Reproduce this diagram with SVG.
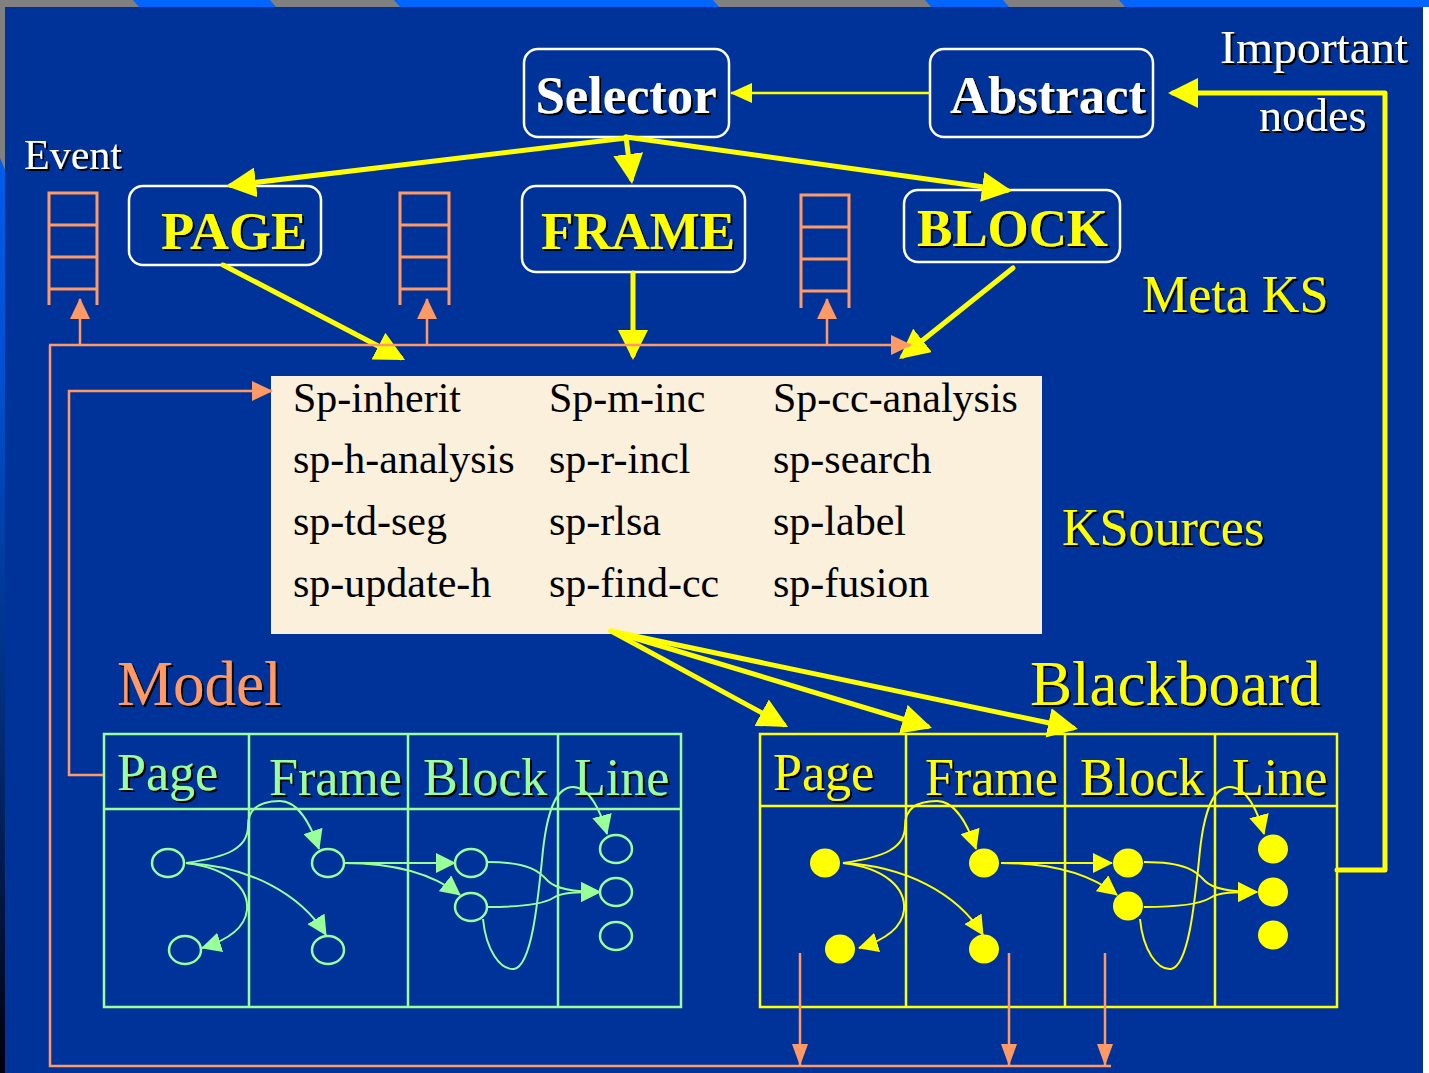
<svg xmlns="http://www.w3.org/2000/svg" width="1429" height="1073" viewBox="0 0 1429 1073">
<defs>
<style>
.serif{font-family:"Liberation Serif","Times New Roman",serif}
.box{fill:none;stroke:#ffffff;stroke-width:2.5}
.btw{font-family:"Liberation Serif",serif;font-weight:bold;font-size:53px;fill:#ffffff}
.bty{font-family:"Liberation Serif",serif;font-weight:bold;font-size:53px;fill:#ffff00}
.ks{font-family:"Liberation Serif",serif;font-size:42px;fill:#000000}
.yl{stroke:#ffff00;stroke-width:5;fill:none;stroke-linecap:round}
.or{stroke:#ff9966;stroke-width:2.5;fill:none}
.stk{stroke:#ff9966;stroke-width:3;fill:none}
.ge{stroke:#99ff99;stroke-width:2;fill:none}
.ye{stroke:#ffff00;stroke-width:2;fill:none}
.hdrg{font-family:"Liberation Serif",serif;font-size:52px;fill:#99ff99}
.hdry{font-family:"Liberation Serif",serif;font-size:52px;fill:#ffff00}
</style>
<filter id="sh" x="-5%" y="-5%" width="115%" height="120%">
<feDropShadow dx="2" dy="2" stdDeviation="0.4" flood-color="#000000" flood-opacity="1"/>
</filter>
<linearGradient id="lg" x1="0" y1="0" x2="0" y2="1">
<stop offset="0" stop-color="#0066ff"/>
<stop offset="0.35" stop-color="#0050d0"/>
<stop offset="0.7" stop-color="#002a70"/>
<stop offset="1" stop-color="#000010"/>
</linearGradient>
<marker id="ay" markerUnits="userSpaceOnUse" viewBox="0 0 30 30" markerWidth="30" markerHeight="30" refX="25" refY="15" orient="auto"><path d="M0,0 L30,15 L0,30 z" fill="#ffff00"/></marker>
<marker id="ayt" markerUnits="userSpaceOnUse" viewBox="0 0 22 20" markerWidth="22" markerHeight="20" refX="21" refY="10" orient="auto"><path d="M0,0 L22,10 L0,20 z" fill="#ffff00"/></marker>
<marker id="ag" markerUnits="userSpaceOnUse" viewBox="0 0 20 20" markerWidth="20" markerHeight="20" refX="19" refY="10" orient="auto"><path d="M0,0 L20,10 L0,20 z" fill="#99ff99"/></marker>
<marker id="ays" markerUnits="userSpaceOnUse" viewBox="0 0 20 20" markerWidth="20" markerHeight="20" refX="19" refY="10" orient="auto"><path d="M0,0 L20,10 L0,20 z" fill="#ffff00"/></marker>
<marker id="ao" markerUnits="userSpaceOnUse" viewBox="0 0 21 20" markerWidth="21" markerHeight="20" refX="20" refY="10" orient="auto"><path d="M0,0 L21,10 L0,20 z" fill="#ff9966"/></marker>
<marker id="aod" markerUnits="userSpaceOnUse" viewBox="0 0 22 16" markerWidth="22" markerHeight="16" refX="21" refY="8" orient="auto"><path d="M0,0 L22,8 L0,16 z" fill="#ff9966"/></marker>
</defs>

<!-- background -->
<rect x="0" y="0" width="1429" height="1073" fill="#003399"/>
<rect x="1423" y="7" width="6" height="1066" fill="#ffffff"/>
<rect x="0" y="0" width="5" height="1073" fill="url(#lg)"/>
<polygon points="0,0 5,0 5,170 0,158" fill="#808080"/>
<rect x="0" y="0" width="1429" height="7" fill="#0066ff"/>
<polygon points="0,0 133,0 139,7 0,7" fill="#808080"/>
<polygon points="270,0 394,0 400,7 276,7" fill="#808080"/>
<polygon points="713,0 925,0 931,7 719,7" fill="#808080"/>
<polygon points="1003,0 1119,0 1125,7 1009,7" fill="#808080"/>

<!-- free labels -->
<g id="labels" filter="url(#sh)">
<text class="serif" x="24" y="169" font-size="42" fill="#ffffff">Event</text>
<text class="serif" x="1220" y="63" font-size="46" fill="#ffffff" textLength="188" lengthAdjust="spacingAndGlyphs">Important</text>
<text class="serif" x="1259" y="131" font-size="46" fill="#ffffff">nodes</text>
<text class="serif" x="1142" y="312" font-size="52" fill="#ffff00">Meta KS</text>
<text class="serif" x="1062" y="545" font-size="52" fill="#ffff00">KSources</text>
<text class="serif" x="117" y="705" font-size="63" fill="#ff9966">Model</text>
<text class="serif" x="1030" y="705" font-size="63" fill="#ffff00">Blackboard</text>
</g>

<!-- event queues -->
<g id="event-queue-1">
<path class="stk" d="M49,305 V193 H97 V305 M49,225 H97 M49,257 H97 M49,289 H97"/>
</g>
<g id="event-queue-2">
<path class="stk" d="M400,305 V193 H449 V305 M400,225 H449 M400,257 H449 M400,289 H449"/>
</g>
<g id="event-queue-3">
<path class="stk" d="M801,308 V195 H849 V308 M801,227 H849 M801,259 H849 M801,291 H849"/>
</g>

<!-- meta KS nodes -->
<g id="selector">
<rect class="box" x="524" y="49" width="205" height="88" rx="14"/>
<text class="btw" x="626" y="113" text-anchor="middle" textLength="181" lengthAdjust="spacingAndGlyphs" filter="url(#sh)">Selector</text>
</g>
<g id="abstract">
<rect class="box" x="930" y="49" width="223" height="88" rx="14"/>
<text class="btw" x="1048" y="113" text-anchor="middle" textLength="196" lengthAdjust="spacingAndGlyphs" filter="url(#sh)">Abstract</text>
</g>
<g id="page">
<rect class="box" x="129" y="186" width="192" height="79" rx="14"/>
<text class="bty" x="161" y="249" textLength="146" lengthAdjust="spacingAndGlyphs" filter="url(#sh)">PAGE</text>
</g>
<g id="frame">
<rect class="box" x="522" y="186" width="223" height="86" rx="14"/>
<text class="bty" x="541" y="249" textLength="194" lengthAdjust="spacingAndGlyphs" filter="url(#sh)">FRAME</text>
</g>
<g id="block">
<rect class="box" x="904" y="190" width="216" height="72" rx="14"/>
<text class="bty" x="917" y="246" textLength="191" lengthAdjust="spacingAndGlyphs" filter="url(#sh)">BLOCK</text>
</g>

<!-- KSources -->
<g id="ksources">
<rect x="271" y="376" width="771" height="258" fill="#fbf0dc"/>
<text class="ks" x="293" y="412">Sp-inherit</text>
<text class="ks" x="293" y="473">sp-h-analysis</text>
<text class="ks" x="293" y="535">sp-td-seg</text>
<text class="ks" x="293" y="597">sp-update-h</text>
<text class="ks" x="549" y="412">Sp-m-inc</text>
<text class="ks" x="549" y="473">sp-r-incl</text>
<text class="ks" x="549" y="535">sp-rlsa</text>
<text class="ks" x="549" y="597">sp-find-cc</text>
<text class="ks" x="773" y="412">Sp-cc-analysis</text>
<text class="ks" x="773" y="473">sp-search</text>
<text class="ks" x="773" y="535">sp-label</text>
<text class="ks" x="773" y="597">sp-fusion</text>
</g>

<!-- Model -->
<g id="model">
<rect x="104" y="734" width="577" height="273" fill="none" stroke="#99ff99" stroke-width="2.5"/>
<path d="M104,809 H681 M249,734 V1007 M408,734 V1007 M558,734 V1007" stroke="#99ff99" stroke-width="2.5" fill="none"/>
<g filter="url(#sh)">
<text class="hdrg" x="117" y="790">Page</text>
<text class="hdrg" x="269" y="795">Frame</text>
<text class="hdrg" x="423" y="795">Block</text>
<text class="hdrg" x="574" y="795">Line</text>
</g>
<g fill="none" stroke="#99ff99" stroke-width="2.5">
<ellipse cx="168" cy="863" rx="16" ry="14"/>
<ellipse cx="185" cy="950" rx="16" ry="14"/>
<ellipse cx="328" cy="863" rx="16" ry="14"/>
<ellipse cx="328" cy="950" rx="16" ry="14"/>
<ellipse cx="471" cy="863" rx="16" ry="14"/>
<ellipse cx="471" cy="907" rx="16" ry="14"/>
<ellipse cx="616" cy="849" rx="16" ry="14"/>
<ellipse cx="616" cy="892" rx="16" ry="14"/>
<ellipse cx="616" cy="936" rx="16" ry="14"/>
</g>
</g>

<!-- Blackboard -->
<g id="blackboard">
<rect x="760" y="734" width="577" height="273" fill="none" stroke="#ffff00" stroke-width="2.5"/>
<path d="M760,806 H1337 M906,734 V1007 M1065,734 V1007 M1215,734 V1007" stroke="#ffff00" stroke-width="2.5" fill="none"/>
<g filter="url(#sh)">
<text class="hdry" x="773" y="790">Page</text>
<text class="hdry" x="925" y="795">Frame</text>
<text class="hdry" x="1080" y="795">Block</text>
<text class="hdry" x="1232" y="795">Line</text>
</g>
<g fill="#ffff00">
<ellipse cx="825" cy="863" rx="15" ry="14.5"/>
<ellipse cx="840" cy="949" rx="15" ry="14.5"/>
<ellipse cx="984" cy="863" rx="15" ry="14.5"/>
<ellipse cx="984" cy="949" rx="15" ry="14.5"/>
<ellipse cx="1128" cy="863" rx="15" ry="14.5"/>
<ellipse cx="1128" cy="906" rx="15" ry="14.5"/>
<ellipse cx="1273" cy="849" rx="15" ry="14.5"/>
<ellipse cx="1273" cy="892" rx="15" ry="14.5"/>
<ellipse cx="1273" cy="935" rx="15" ry="14.5"/>
</g>
</g>

<!-- connectors -->
<g id="connectors">
<!-- meta level -->
<path d="M930,93 H731" stroke="#ffff00" stroke-width="2.5" fill="none" marker-end="url(#ayt)"/>
<path class="yl" d="M1337,870 H1385 V93 H1173" stroke-linejoin="round" marker-end="url(#ay)"/>
<path class="yl" d="M626,138 L231,185.4" marker-end="url(#ay)"/>
<path class="yl" d="M626,137 L631.4,179" marker-end="url(#ay)"/>
<path class="yl" d="M626,137 L1007,190.3" marker-end="url(#ay)"/>
<path class="yl" d="M223,265 L400.6,357.7" marker-end="url(#ay)"/>
<path class="yl" d="M633,273 L633,355" marker-end="url(#ay)"/>
<path class="yl" d="M1013,268 L903,356" marker-end="url(#ay)"/>
<!-- KS to blackboard -->
<path class="yl" stroke-width="6" d="M611,631 L783.6,724.6" marker-end="url(#ay)"/>
<path class="yl" stroke-width="6" d="M611,631 L927.2,726.5" marker-end="url(#ay)"/>
<path class="yl" stroke-width="6" d="M611,631 L1073,728" marker-end="url(#ay)"/>
<!-- events -->
<path class="or" d="M49,345 H911" marker-end="url(#ao)"/>
<path class="or" d="M80,345 V299" marker-end="url(#ao)"/>
<path class="or" d="M427,345 V299" marker-end="url(#ao)"/>
<path class="or" d="M827,345 V299" marker-end="url(#ao)"/>
<path class="or" d="M50,345 V1066 H1111"/>
<path class="or" d="M800,953 V1065" marker-end="url(#aod)"/>
<path class="or" d="M1009,953 V1065" marker-end="url(#aod)"/>
<path class="or" d="M1105,953 V1065" marker-end="url(#aod)"/>
<path class="or" d="M103,775 H69 V391 H272" marker-end="url(#ao)"/>
<!-- model edges -->
<g>
<path class="ge" d="M186,863 C228,857 248,848 248,826 C248,806 264,801 280,801 C298,801 311,825 319,849" marker-end="url(#ag)"/>
<path class="ge" d="M186,863 C228,868 249,888 247,910 C245,928 228,940 202,948" marker-end="url(#ag)"/>
<path class="ge" d="M186,863 C248,866 300,893 326,935" marker-end="url(#ag)"/>
<path class="ge" d="M344,863 L455,863" marker-end="url(#ag)"/>
<path class="ge" d="M344,863 C392,863 432,873 460,895" marker-end="url(#ag)"/>
<path class="ge" d="M487,862 C530,862 540,872 548,881 C556,889 575,892 600,892" marker-end="url(#ag)"/>
<path class="ge" d="M487,907 C528,907 545,903 553,898 C562,892 578,892 600,892" marker-end="url(#ag)"/>
<path class="ge" d="M483,919 C486,950 500,970 514,969 C532,966 538,900 543,850 C548,805 558,787 573,787 C590,787 601,812 607,834" marker-end="url(#ag)"/>
</g>
<!-- blackboard edges -->
<g transform="translate(657,0)">
<path class="ye" d="M186,863 C228,857 248,848 248,826 C248,806 264,801 280,801 C298,801 311,825 319,849" marker-end="url(#ays)"/>
<path class="ye" d="M186,863 C228,868 249,888 247,910 C245,928 228,940 202,948" marker-end="url(#ays)"/>
<path class="ye" d="M186,863 C248,866 300,893 326,935" marker-end="url(#ays)"/>
<path class="ye" d="M344,863 L455,863" marker-end="url(#ays)"/>
<path class="ye" d="M344,863 C392,863 432,873 460,895" marker-end="url(#ays)"/>
<path class="ye" d="M487,862 C530,862 540,872 548,881 C556,889 575,892 600,892" marker-end="url(#ays)"/>
<path class="ye" d="M487,907 C528,907 545,903 553,898 C562,892 578,892 600,892" marker-end="url(#ays)"/>
<path class="ye" d="M483,919 C486,950 500,970 514,969 C532,966 538,900 543,850 C548,805 558,787 573,787 C590,787 601,812 607,834" marker-end="url(#ays)"/>
</g>
</g>
</svg>
